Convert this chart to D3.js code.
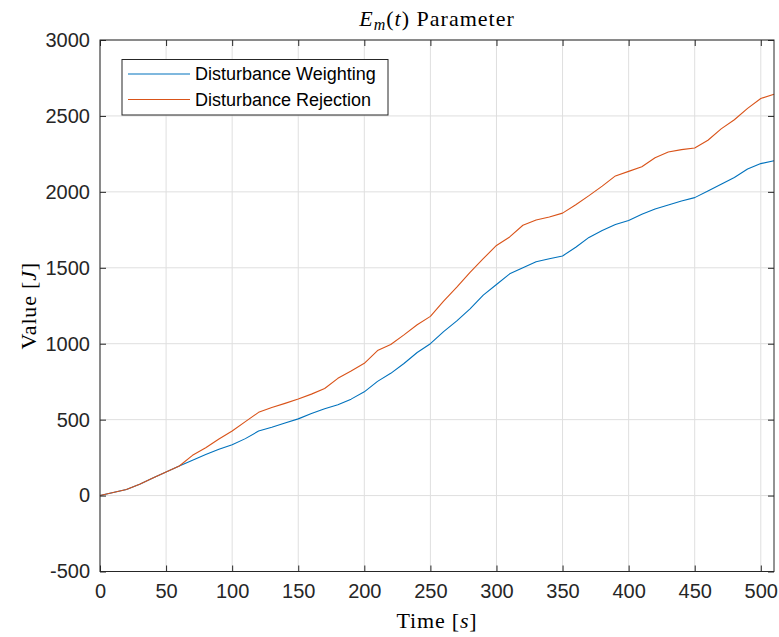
<!DOCTYPE html>
<html>
<head>
<meta charset="utf-8">
<script src="https://cdn.jsdelivr.net/npm/d3@7"></script>
<style>
  body { margin: 0; background: #fff; }
  svg { display: block; }
</style>
</head>
<body>
<svg id="chart" width="779" height="637"></svg>
<script>
// time samples [s]
const times = [0, 10, 20, 30, 40, 50, 60, 70, 80, 90, 100, 110, 120, 130, 140, 150, 160, 170, 180, 190,
  200, 210, 220, 230, 240, 250, 260, 270, 280, 290, 300, 310, 320, 330, 340, 350, 360, 370, 380, 390,
  400, 410, 420, 430, 440, 450, 460, 470, 480, 490, 500, 510];

// Disturbance Weighting
const weighting = [0, 20, 40, 75, 115, 156, 195, 233, 270, 305, 335, 375, 425, 450, 478, 505, 540, 572, 598, 635,
  683, 752, 805, 870, 942, 1000, 1080, 1150, 1230, 1320, 1390, 1460, 1500, 1540, 1560, 1578, 1635, 1700, 1745, 1785,
  1812, 1852, 1887, 1913, 1940, 1962, 2005, 2050, 2095, 2150, 2186, 2205];

// Disturbance Rejection
const rejection = [0, 20, 40, 75, 115, 156, 195, 265, 315, 372, 425, 487, 548, 580, 607, 636, 668, 705, 772, 820,
  871, 955, 995, 1058, 1125, 1180, 1280, 1372, 1470, 1560, 1647, 1703, 1780, 1815, 1835, 1860, 1915, 1975, 2038, 2105,
  2135, 2165, 2225, 2262, 2278, 2289, 2340, 2415, 2475, 2550, 2615, 2643];

const xTicks = d3.range(0, 501, 50);
const yTicks = d3.range(-500, 3001, 500);
const seriesNames = ['Disturbance Weighting', 'Disturbance Rejection'];
const colors = ['#0072BD', '#D95319'];

const svg = d3.select('#chart');
const margin = { left: 100, top: 40, right: 5, bottom: 65.5 };
const width = 779 - margin.left - margin.right;
const height = 637 - margin.top - margin.bottom;

const x = d3.scaleLinear().domain([0, 510]).range([0, width]);
const y = d3.scaleLinear().domain([-500, 3000]).range([height, 0]);

const graph = svg.append('g').attr('transform', `translate(${margin.left}, ${margin.top})`);

// grid
graph.append('g')
  .selectAll('line')
  .data(xTicks)
  .join('line')
  .attr('x1', d => x(d)).attr('x2', d => x(d))
  .attr('y1', 0).attr('y2', height)
  .attr('stroke', '#dfdfdf').attr('stroke-width', 1);

graph.append('g')
  .selectAll('line')
  .data(yTicks)
  .join('line')
  .attr('x1', 0).attr('x2', width)
  .attr('y1', d => y(d)).attr('y2', d => y(d))
  .attr('stroke', '#dfdfdf').attr('stroke-width', 1);

// series
const line = d3.line()
  .x((d, i) => x(times[i]))
  .y(d => y(d));

[weighting, rejection].forEach((s, k) => {
  graph.append('path')
    .datum(s)
    .attr('fill', 'none')
    .attr('stroke', colors[k])
    .attr('stroke-width', 1.1)
    .attr('stroke-linejoin', 'round')
    .attr('d', line);
});

// axes
const axisColor = '#262626';
const plain = d => String(d); // matlab uses a hyphen for negatives
const styleAxis = (g) => {
  g.select('.domain').remove();
  g.selectAll('.tick line').attr('stroke', axisColor);
  g.selectAll('.tick text')
    .attr('fill', axisColor)
    .attr('font-family', '"Liberation Sans", Arial, sans-serif')
    .attr('font-size', '20px');
};

graph.append('g')
  .attr('transform', `translate(0, ${height})`)
  .call(d3.axisBottom(x).tickValues(xTicks).tickSize(-6).tickPadding(12).tickFormat(plain))
  .call(styleAxis);

graph.append('g')
  .call(d3.axisTop(x).tickValues(xTicks).tickSize(-6).tickFormat(''))
  .call(styleAxis);

graph.append('g')
  .call(d3.axisLeft(y).tickValues(yTicks).tickSize(-6).tickPadding(10).tickFormat(plain))
  .call(styleAxis);

graph.append('g')
  .attr('transform', `translate(${width}, 0)`)
  .call(d3.axisRight(y).tickValues(yTicks).tickSize(-6).tickFormat(''))
  .call(styleAxis);

graph.append('rect')
  .attr('x', 0).attr('y', 0)
  .attr('width', width).attr('height', height)
  .attr('fill', 'none')
  .attr('stroke', axisColor)
  .attr('stroke-width', 1);

// title and labels
const serif = '"Liberation Serif", "Times New Roman", serif';

const title = svg.append('text')
  .attr('x', margin.left + width / 2)
  .attr('y', 26)
  .attr('text-anchor', 'middle')
  .attr('font-family', serif)
  .attr('font-size', '22px')
  .attr('letter-spacing', '1px')
  .attr('fill', '#000');
title.append('tspan').attr('font-style', 'italic').text('E');
title.append('tspan').attr('font-style', 'italic').attr('font-size', '16px').attr('dy', 4).text('m');
title.append('tspan').attr('dy', -4).text('(');
title.append('tspan').attr('font-style', 'italic').text('t');
title.append('tspan').text(') Parameter');

const xLabel = svg.append('text')
  .attr('x', margin.left + width / 2)
  .attr('y', 628)
  .attr('text-anchor', 'middle')
  .attr('font-family', serif)
  .attr('font-size', '22px')
  .attr('letter-spacing', '0.8px')
  .attr('fill', '#000');
xLabel.append('tspan').text('Time [');
xLabel.append('tspan').attr('font-style', 'italic').text('s');
xLabel.append('tspan').text(']');

const yLabel = svg.append('text')
  .attr('transform', `translate(36, ${margin.top + height / 2}) rotate(-90)`)
  .attr('text-anchor', 'middle')
  .attr('font-family', serif)
  .attr('font-size', '22px')
  .attr('letter-spacing', '0.8px')
  .attr('fill', '#000');
yLabel.append('tspan').text('Value [');
yLabel.append('tspan').attr('font-style', 'italic').text('J');
yLabel.append('tspan').text(']');

// legend
const legend = svg.append('g').attr('transform', 'translate(122, 59.5)');
legend.append('rect')
  .attr('width', 266).attr('height', 55.5)
  .attr('fill', '#fff')
  .attr('stroke', axisColor)
  .attr('stroke-width', 1);

const items = legend.selectAll('.item')
  .data(seriesNames)
  .join('g')
  .attr('class', 'item')
  .attr('transform', (d, i) => `translate(0, ${14.5 + i * 25.5})`);

items.append('line')
  .attr('x1', 6).attr('x2', 68)
  .attr('stroke', (d, i) => colors[i])
  .attr('stroke-width', 1.1);

items.append('text')
  .attr('x', 73)
  .attr('dy', '0.36em')
  .attr('font-family', '"Liberation Sans", Arial, sans-serif')
  .attr('font-size', '18px')
  .attr('fill', '#000')
  .text(d => d);
</script>
</body>
</html>
